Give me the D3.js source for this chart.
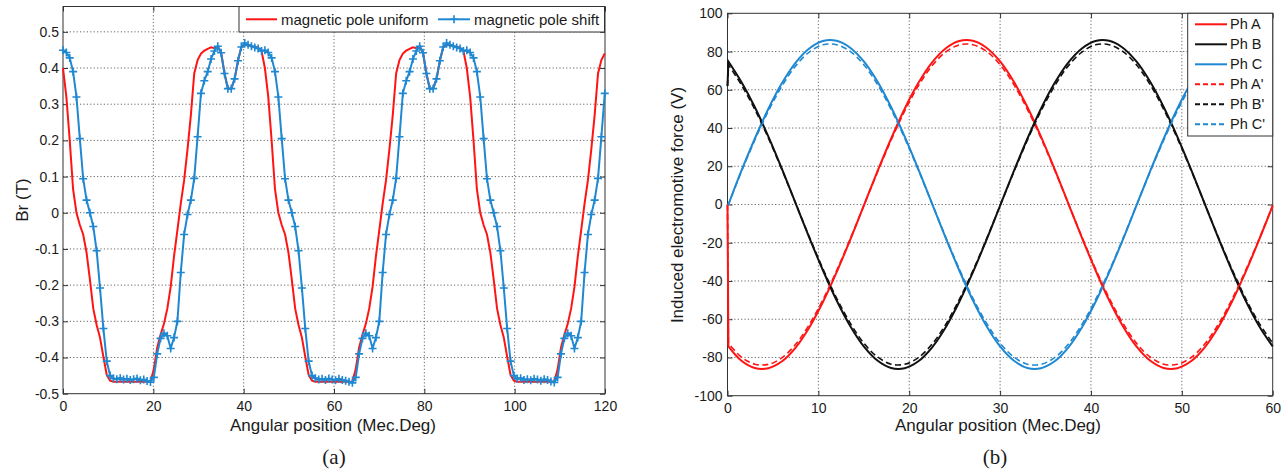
<!DOCTYPE html>
<html>
<head>
<meta charset="utf-8">
<script src="https://cdn.jsdelivr.net/npm/d3@7"></script>
<style>
  body { margin: 0; background: #fff; }
  svg { display: block; background: #fff; }
  text { font-family: "Liberation Sans", Arial, sans-serif; fill: #1a1a1a; }
  .tick text { font-size: 14px; font-family: "Liberation Sans", Arial, sans-serif; fill: #1a1a1a; }
  .grid { stroke: #555; stroke-width: 0.9; stroke-dasharray: 1.2 2.2; }
</style>
</head>
<body>
<svg id="chart" width="1288" height="473"></svg>
<script>
// ---- (a) air-gap flux density, sampled every 0.745 mec. deg ----
const brStep = 0.745
const brAngles = d3.range(162).map(i => i * brStep)

const brUniform = [
  0.400, 0.320, 0.200, 0.065, 0.000, -0.034, -0.060, -0.110, -0.185, -0.265,
  -0.310, -0.345, -0.398, -0.448, -0.464, -0.467, -0.467, -0.467, -0.467, -0.467,
  -0.467, -0.467, -0.467, -0.467, -0.467, -0.467, -0.467, -0.432, -0.372, -0.337,
  -0.307, -0.265, -0.205, -0.120, -0.048, 0.025, 0.090, 0.175, 0.270, 0.385,
  0.422, 0.440, 0.448, 0.453, 0.457, 0.455, 0.460, 0.442, 0.385, 0.343,
  0.343, 0.370, 0.420, 0.458, 0.464, 0.462, 0.460, 0.459, 0.456, 0.447,
  0.400, 0.320, 0.200, 0.065, 0.000, -0.034, -0.060, -0.110, -0.185, -0.265,
  -0.310, -0.345, -0.398, -0.448, -0.464, -0.467, -0.467, -0.467, -0.467, -0.467,
  -0.467, -0.467, -0.467, -0.467, -0.467, -0.467, -0.467, -0.432, -0.372, -0.337,
  -0.307, -0.265, -0.205, -0.120, -0.048, 0.025, 0.090, 0.175, 0.270, 0.385,
  0.422, 0.440, 0.448, 0.453, 0.457, 0.455, 0.460, 0.442, 0.385, 0.343,
  0.343, 0.370, 0.420, 0.458, 0.464, 0.462, 0.460, 0.459, 0.456, 0.447,
  0.400, 0.320, 0.200, 0.065, 0.000, -0.034, -0.060, -0.110, -0.185, -0.265,
  -0.310, -0.345, -0.398, -0.448, -0.464, -0.467, -0.467, -0.467, -0.467, -0.467,
  -0.467, -0.467, -0.467, -0.467, -0.467, -0.467, -0.467, -0.432, -0.372, -0.337,
  -0.307, -0.265, -0.205, -0.120, -0.048, 0.025, 0.090, 0.175, 0.270, 0.385,
  0.422, 0.440
]

const brShift = [
  0.449, 0.443, 0.428, 0.390, 0.320, 0.205, 0.094, 0.035, 0.000, -0.038,
  -0.105, -0.208, -0.320, -0.410, -0.450, -0.458, -0.460, -0.457, -0.461, -0.459,
  -0.462, -0.460, -0.458, -0.463, -0.461, -0.465, -0.468, -0.455, -0.390, -0.347,
  -0.333, -0.340, -0.375, -0.345, -0.300, -0.165, -0.060, -0.005, 0.035, 0.095,
  0.210, 0.330, 0.365, 0.390, 0.425, 0.447, 0.460, 0.442, 0.385, 0.343,
  0.343, 0.370, 0.420, 0.458, 0.469, 0.464, 0.460, 0.457, 0.454, 0.447,
  0.449, 0.443, 0.428, 0.390, 0.320, 0.205, 0.094, 0.035, 0.000, -0.038,
  -0.105, -0.208, -0.320, -0.410, -0.450, -0.457, -0.461, -0.459, -0.462, -0.458,
  -0.461, -0.463, -0.459, -0.462, -0.464, -0.467, -0.470, -0.455, -0.390, -0.347,
  -0.333, -0.340, -0.375, -0.345, -0.300, -0.165, -0.060, -0.005, 0.035, 0.095,
  0.210, 0.330, 0.365, 0.390, 0.425, 0.447, 0.460, 0.442, 0.385, 0.343,
  0.343, 0.370, 0.420, 0.458, 0.469, 0.464, 0.460, 0.457, 0.454, 0.447,
  0.449, 0.443, 0.428, 0.390, 0.320, 0.205, 0.094, 0.035, 0.000, -0.038,
  -0.105, -0.208, -0.320, -0.410, -0.450, -0.459, -0.457, -0.462, -0.460, -0.463,
  -0.459, -0.461, -0.464, -0.460, -0.462, -0.466, -0.469, -0.455, -0.390, -0.347,
  -0.333, -0.340, -0.375, -0.345, -0.300, -0.165, -0.060, -0.005, 0.035, 0.095,
  0.210, 0.330
]

const brXTicks = [0, 20, 40, 60, 80, 100, 120]
const brYTicks = [-0.5, -0.4, -0.3, -0.2, -0.1, 0, 0.1, 0.2, 0.3, 0.4, 0.5]

// ---- (b) induced EMF of the three phases ----
const emfAngles = [0, 0.1, 1.5, 3, 4.5, 6, 7.5, 9, 10.5, 12, 13.5, 15, 16.5, 18, 19.5, 21,
  22.5, 24, 25.5, 27, 28.5, 30, 31.5, 33, 34.5, 36, 37.5, 39, 40.5, 42, 43.5, 45,
  46.5, 48, 49.5, 51, 52.5, 54, 55.5, 57, 58.5, 60]

const phA = [0, -74.2, -81.6, -85.5, -85.6, -82.0, -74.8, -64.3, -51.0, -35.5, -18.5, -0.6,
  17.3, 34.4, 50.1, 63.5, 74.2, 81.6, 85.5, 85.6, 82.0, 74.8, 64.3, 51.0, 35.5, 18.5, 0.6,
  -17.3, -34.4, -50.1, -63.5, -74.2, -81.6, -85.5, -85.6, -82.0, -74.8, -64.3, -51.0, -35.5,
  -18.5, -0.6]
const phB = [62, 74.8, 64.3, 51.0, 35.5, 18.5, 0.6, -17.3, -34.4, -50.1, -63.5,
  -74.2, -81.6, -85.5, -85.6, -82.0, -74.8, -64.3, -51.0, -35.5, -18.5,
  -0.6, 17.3, 34.4, 50.1, 63.5, 74.2, 81.6, 85.5, 85.6, 82.0,
  74.8, 64.3, 51.0, 35.5, 18.5, 0.6, -17.3, -34.4, -50.1, -63.5, -74.2]
const phC = [0, 0.0, 17.3, 34.4, 50.1, 63.5, 74.2, 81.6, 85.5, 85.6, 82.0, 74.8, 64.3, 51.0,
  35.5, 18.5, 0.6, -17.3, -34.4, -50.1, -63.5, -74.2, -81.6, -85.5, -85.6, -82.0, -74.8,
  -64.3, -51.0, -35.5, -18.5, -0.6, 17.3, 34.4, 50.1, 63.5, 74.2, 81.6, 85.5, 85.6, 82.0, 74.8]
const phA2 = [0, -72.5, -79.7, -83.5, -83.6, -80.1, -73.1, -62.8, -49.8, -34.7, -18.1, -0.6,
  16.9, 33.6, 48.9, 62.0, 72.5, 79.7, 83.5, 83.6, 80.1, 73.1, 62.8, 49.8, 34.7, 18.1, 0.6,
  -16.9, -33.6, -48.9, -62.0, -72.5, -79.7, -83.5, -83.6, -80.1, -73.1, -62.8, -49.8, -34.7,
  -18.1, -0.6]
const phB2 = [62, 73.1, 62.8, 49.8, 34.7, 18.1, 0.6, -16.9, -33.6, -48.9, -62.0,
  -72.5, -79.7, -83.5, -83.6, -80.1, -73.1, -62.8, -49.8, -34.7, -18.1,
  -0.6, 16.9, 33.6, 48.9, 62.0, 72.5, 79.7, 83.5, 83.6, 80.1,
  73.1, 62.8, 49.8, 34.7, 18.1, 0.6, -16.9, -33.6, -48.9, -62.0, -72.5]
const phC2 = [0, 0.0, 16.9, 33.6, 48.9, 62.0, 72.5, 79.7, 83.5, 83.6, 80.1, 73.1, 62.8, 49.8,
  34.7, 18.1, 0.6, -16.9, -33.6, -48.9, -62.0, -72.5, -79.7, -83.5, -83.6, -80.1, -73.1,
  -62.8, -49.8, -34.7, -18.1, -0.6, 16.9, 33.6, 48.9, 62.0, 72.5, 79.7, 83.5, 83.6, 80.1, 73.1]

const emfXTicks = [0, 10, 20, 30, 40, 50, 60]
const emfYTicks = [-100, -80, -60, -40, -20, 0, 20, 40, 60, 80, 100]

const red = '#ff1414'
const blue = '#1f88d2'
const black = '#111111'

const svg = d3.select('#chart')

function frame (x, y, xTicks, yTicks, yFormat, yPad) {
  const g = svg.append('g')
  const [x0, x1] = x.range()
  const [yb, yt] = y.range()
  g.append('g')
    .selectAll('line')
    .data(xTicks.filter(d => x(d) > x0 + 1 && x(d) < x1 - 1))
    .join('line')
    .attr('class', 'grid')
    .attr('x1', d => x(d)).attr('x2', d => x(d))
    .attr('y1', yb).attr('y2', yt)
  g.append('g')
    .selectAll('line')
    .data(yTicks.filter(d => y(d) < yb - 1 && y(d) > yt + 1))
    .join('line')
    .attr('class', 'grid')
    .attr('x1', x0).attr('x2', x1)
    .attr('y1', d => y(d)).attr('y2', d => y(d))
  const axes = g.append('g').attr('color', '#333')
  axes.append('g')
    .attr('transform', `translate(0,${yb})`)
    .call(d3.axisBottom(x).tickValues(xTicks).tickSize(-5).tickPadding(7))
  axes.append('g')
    .attr('transform', `translate(0,${yt})`)
    .call(d3.axisTop(x).tickValues(xTicks).tickSize(-5).tickFormat(''))
  axes.append('g')
    .attr('transform', `translate(${x0},0)`)
    .call(d3.axisLeft(y).tickValues(yTicks).tickSize(-5).tickPadding(yPad).tickFormat(yFormat))
  axes.append('g')
    .attr('transform', `translate(${x1},0)`)
    .call(d3.axisRight(y).tickValues(yTicks).tickSize(-5).tickFormat(''))
  axes.selectAll('.domain').remove()
  g.append('rect')
    .attr('x', x0).attr('y', yt)
    .attr('width', x1 - x0).attr('height', yb - yt)
    .attr('fill', 'none')
    .attr('stroke', '#333')
    .attr('stroke-width', 1)
  return g
}

function fluxDensity () {
  const x = d3.scaleLinear().domain([0, 120]).range([63, 605])
  const y = d3.scaleLinear().domain([-0.5, 0.57]).range([393.7, 6.5])
  frame(x, y, brXTicks, brYTicks, d => String(+d.toFixed(1)), 4)
  const line = d3.line().x(d => x(d[0])).y(d => y(d[1]))
  const uniform = brAngles.map((a, i) => [a, brUniform[i]])
  const shift = brAngles.map((a, i) => [a, brShift[i]])
  svg.append('path')
    .attr('d', line(uniform))
    .attr('fill', 'none')
    .attr('stroke', red)
    .attr('stroke-width', 2)
  svg.append('path')
    .attr('d', line(shift))
    .attr('fill', 'none')
    .attr('stroke', blue)
    .attr('stroke-width', 2)
  svg.append('g')
    .selectAll('path')
    .data(shift)
    .join('path')
    .attr('transform', d => `translate(${x(d[0])},${y(d[1])})`)
    .attr('d', 'M-4,0H4M0,-4V4')
    .attr('stroke', blue)
    .attr('stroke-width', 1.6)

  // legend
  const lg = svg.append('g')
  lg.append('rect')
    .attr('x', 239).attr('y', 6.5).attr('width', 365.5).attr('height', 25.5)
    .attr('fill', '#fff').attr('stroke', '#333')
  lg.append('line')
    .attr('x1', 246).attr('x2', 277).attr('y1', 19.3).attr('y2', 19.3)
    .attr('stroke', red).attr('stroke-width', 2)
  lg.append('text').attr('x', 281).attr('y', 24.6).attr('font-size', 15).text('magnetic pole uniform')
  lg.append('line')
    .attr('x1', 438).attr('x2', 470).attr('y1', 19.3).attr('y2', 19.3)
    .attr('stroke', blue).attr('stroke-width', 2)
  lg.append('path')
    .attr('transform', 'translate(454,19.3)')
    .attr('d', 'M-4,0H4M0,-4V4')
    .attr('stroke', blue).attr('stroke-width', 1.6)
  lg.append('text').attr('x', 474).attr('y', 24.6).attr('font-size', 15).text('magnetic pole shift')

  svg.append('text')
    .attr('x', 333).attr('y', 431)
    .attr('text-anchor', 'middle').attr('font-size', 17)
    .text('Angular position (Mec.Deg)')
  svg.append('text')
    .attr('transform', 'translate(28,200) rotate(-90)')
    .attr('text-anchor', 'middle').attr('font-size', 17)
    .text('Br (T)')
  svg.append('text')
    .attr('x', 334).attr('y', 464)
    .attr('text-anchor', 'middle')
    .attr('font-size', 21)
    .style('font-family', '"Liberation Serif", "Times New Roman", serif')
    .text('(a)')
}

function inducedEmf () {
  const x = d3.scaleLinear().domain([0, 60]).range([727.5, 1272.7])
  const y = d3.scaleLinear().domain([-100, 100]).range([395.7, 13.3])
  frame(x, y, emfXTicks, emfYTicks, d => String(d), 5)
  const smooth = d3.line().x(d => x(d[0])).y(d => y(d[1])).curve(d3.curveCatmullRom.alpha(0.5))
  // the first sample is the start-up jump at 0 deg: keep it as a straight segment
  const path = pts => `M${x(pts[0][0])},${y(pts[0][1])}L` + smooth(pts.slice(1)).slice(1)
  const series = [
    { name: 'Ph A', values: phA, color: red, dash: null },
    { name: 'Ph B', values: phB, color: black, dash: null },
    { name: 'Ph C', values: phC, color: blue, dash: null },
    { name: "Ph A'", values: phA2, color: red, dash: '6,3.5' },
    { name: "Ph B'", values: phB2, color: black, dash: '6,3.5' },
    { name: "Ph C'", values: phC2, color: blue, dash: '6,3.5' }
  ]
  svg.append('g')
    .selectAll('path')
    .data(series)
    .join('path')
    .attr('d', s => path(emfAngles.map((a, i) => [a, s.values[i]])))
    .attr('fill', 'none')
    .attr('stroke', s => s.color)
    .attr('stroke-width', s => s.dash ? 1.6 : 2)
    .attr('stroke-dasharray', s => s.dash)

  const lg = svg.append('g')
  lg.append('rect')
    .attr('x', 1187.7).attr('y', 13.3).attr('width', 85).attr('height', 122.7)
    .attr('fill', '#fff').attr('stroke', '#333')
  const row = lg.selectAll('g.row')
    .data(series)
    .join('g')
    .attr('class', 'row')
    .attr('transform', (d, i) => `translate(0,${24.3 + i * 20})`)
  row.append('line')
    .attr('x1', 1195).attr('x2', 1227)
    .attr('stroke', d => d.color)
    .attr('stroke-width', 2)
    .attr('stroke-dasharray', d => d.dash ? '5,3' : null)
  row.append('text')
    .attr('x', 1230).attr('y', 5)
    .attr('font-size', 14.5)
    .text(d => d.name)

  svg.append('text')
    .attr('x', 998).attr('y', 431)
    .attr('text-anchor', 'middle').attr('font-size', 17)
    .text('Angular position (Mec.Deg)')
  svg.append('text')
    .attr('transform', 'translate(683,205) rotate(-90)')
    .attr('text-anchor', 'middle').attr('font-size', 17)
    .text('Induced electromotive force (V)')
  svg.append('text')
    .attr('x', 995).attr('y', 464)
    .attr('text-anchor', 'middle')
    .attr('font-size', 21)
    .style('font-family', '"Liberation Serif", "Times New Roman", serif')
    .text('(b)')
}

fluxDensity()
inducedEmf()
</script>
</body>
</html>
